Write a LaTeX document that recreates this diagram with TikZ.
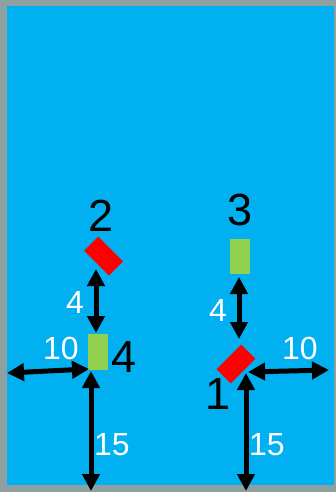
\documentclass[tikz,border=0pt]{standalone}
\usepackage{fontspec}
\setmainfont{Liberation Sans}
\usetikzlibrary{arrows.meta}
\definecolor{framegray}{RGB}{143,160,160}
\definecolor{sky}{RGB}{0,176,240}
\definecolor{leaf}{RGB}{146,208,80}
\begin{document}
\begin{tikzpicture}[x=1pt,y=-1pt,
  dbl/.style={{Triangle[length=17pt,width=17pt]}-{Triangle[length=17pt,width=17pt]}, line width=5pt},
  big/.style={font=\fontsize{45}{45}\selectfont, inner sep=0pt},
  wlab/.style={font=\fontsize{32}{32}\selectfont, text=white, inner sep=0pt},
  redbox/.style={fill=red, minimum width=35pt, minimum height=20pt, inner sep=0pt},
  greenbox/.style={fill=leaf, minimum width=20pt, minimum height=36pt, inner sep=0pt}]
\fill[framegray] (0,0) rectangle (336,492);
\fill[sky] (7,6) rectangle (334,485);
\useasboundingbox (0,0) rectangle (336,492);
% left group
\node[big] (n2) at (101,216) {2};
\node[redbox, rotate=-45] (r2) at (103.5,256) {};
\node[greenbox] (g4) at (98,352) {};
\node[big] (n4) at (124,357) {4};
\coordinate (a1) at (96,269);
\coordinate (a2) at (96,333);
\draw[dbl] (a1) -- (a2);
\node[wlab] (l4a) at (75,302) {4};
\coordinate (c4) at (89,369);
\coordinate (e1) at (7,373);
\draw[dbl] (e1) -- (c4);
\node[wlab] (l10a) at (61,348) {10};
\coordinate (b1) at (91,371);
\coordinate (b1e) at (91,491);
\draw[dbl] (b1) -- (b1e);
\node[wlab] (l15a) at (112,445) {15};
% right group
\node[big] (n3) at (240,210) {3};
\node[greenbox, minimum height=35pt] (g3) at (240,256) {};
\coordinate (a3) at (239,277);
\coordinate (a4) at (239,339);
\draw[dbl] (a3) -- (a4);
\node[wlab] (l4b) at (218,310) {4};
\node[redbox, rotate=45] (r1) at (236,364) {};
\node[big] (n1) at (218,394) {1};
\coordinate (c1) at (248,372);
\coordinate (e2) at (329,370);
\draw[dbl] (c1) -- (e2);
\node[wlab] (l10b) at (300,348) {10};
\coordinate (b2) at (246,373);
\coordinate (b2e) at (246,491);
\draw[dbl] (b2) -- (b2e);
\node[wlab] (l15b) at (267,445) {15};
\end{tikzpicture}
\end{document}
